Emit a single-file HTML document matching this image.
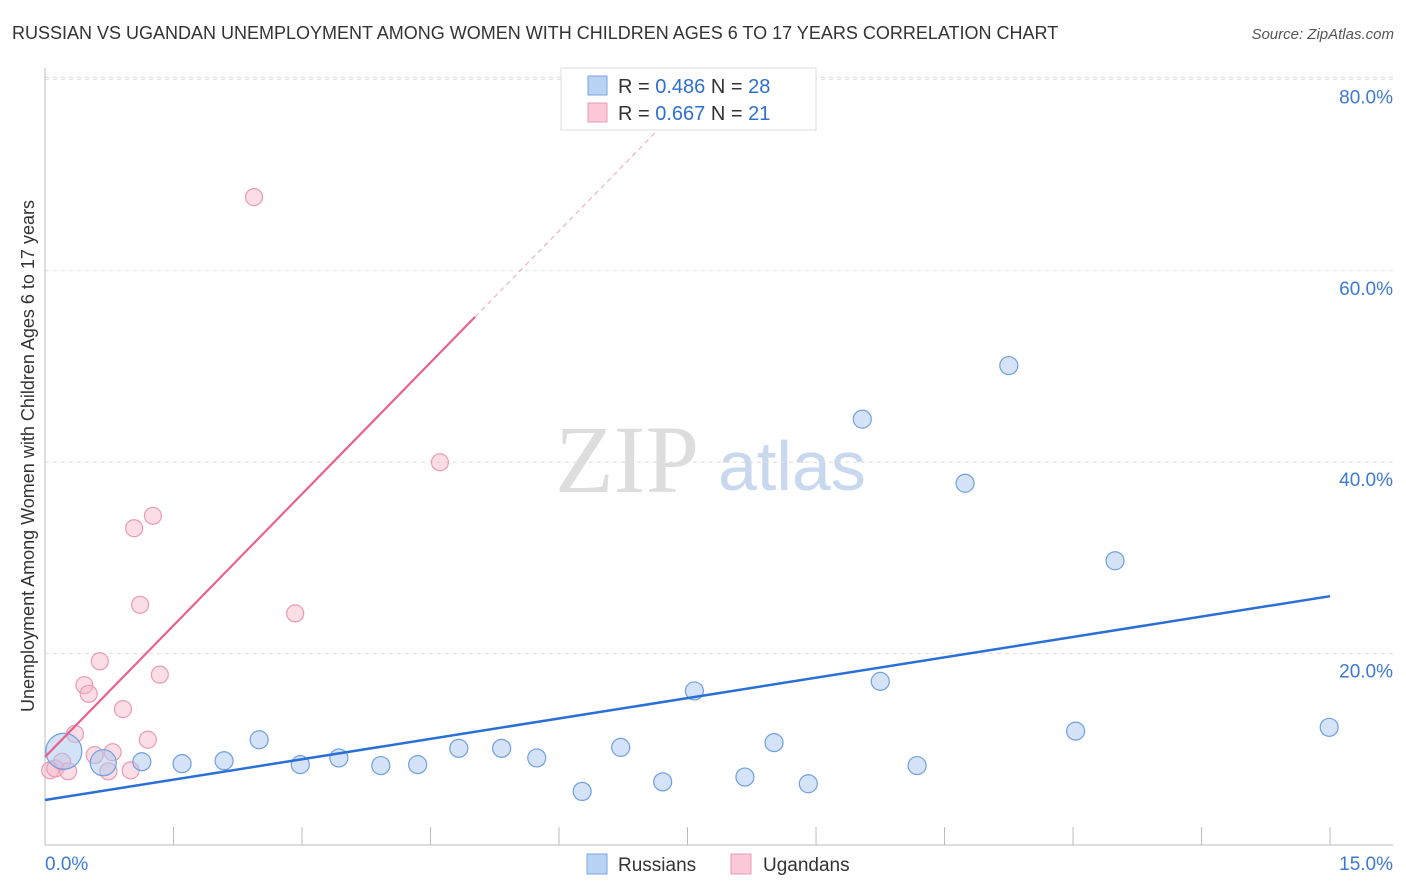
<!DOCTYPE html>
<html><head><meta charset="utf-8"><style>
body{margin:0;background:#fff;font-family:"Liberation Sans",sans-serif;}
svg{display:block}
</style></head><body>
<svg id="c" width="1406" height="892">
<text x="12" y="39" font-size="18" fill="#333">RUSSIAN VS UGANDAN UNEMPLOYMENT AMONG WOMEN WITH CHILDREN AGES 6 TO 17 YEARS CORRELATION CHART</text>
<text x="1394" y="39" font-size="15" fill="#555" text-anchor="end" font-style="italic">Source: ZipAtlas.com</text>
<text transform="translate(34,456) rotate(-90)" font-size="18" fill="#333" text-anchor="middle">Unemployment Among Women with Children Ages 6 to 17 years</text>
<text x="555" y="492" font-size="96" fill="#ddd" font-family="Liberation Serif">ZIP</text>
<text x="718" y="490" font-size="70" fill="#c8d8ee">atlas</text>
<g id="grid"></g><g id="marks"></g>
<g>
<rect x="561" y="68" width="255" height="62" fill="#fff" stroke="#ddd"/>
<rect x="588" y="76" width="19" height="19" fill="#b9d3f5" stroke="#7aa6e0"/>
<text x="618" y="93" font-size="20" fill="#333">R = <tspan fill="#2f6fd0">0.486</tspan>   N = <tspan fill="#2f6fd0">28</tspan></text>
<rect x="588" y="103" width="19" height="19" fill="#f9c9d8" stroke="#eb9ab5"/>
<text x="618" y="120" font-size="20" fill="#333">R = <tspan fill="#2f6fd0">0.667</tspan>   N = <tspan fill="#2f6fd0"> 21</tspan></text>
</g>
<g>
<rect x="587" y="854" width="20" height="20" fill="#b9d3f5" stroke="#7aa6e0"/>
<text x="618" y="871" font-size="19" fill="#333">Russians</text>
<rect x="731" y="854" width="20" height="20" fill="#f9c9d8" stroke="#eb9ab5"/>
<text x="763" y="871" font-size="19" fill="#333">Ugandans</text>
</g>
</svg>
<script>
const yTicks=[20,40,60,80];
const yTickLabels=["20.0%","40.0%","60.0%","80.0%"];
const xTicks=[0,1.5,3,4.5,6,7.5,9,10.5,12,13.5,15];
const ruX=[0.22,0.68,1.13,1.6,2.09,2.5,2.98,3.43,3.92,4.35,4.83,5.33,5.74,6.27,6.72,7.21,7.58,8.17,8.51,8.91,9.54,9.75,10.18,10.74,11.25,12.03,12.49,14.99];
const ruY=[9.8,8.6,8.7,8.5,8.8,11.0,8.4,9.1,8.3,8.4,10.1,10.1,9.1,5.6,10.2,6.6,16.1,7.1,10.7,6.4,44.5,17.1,8.3,37.8,50.1,11.9,29.7,12.3];
const ruR=[18,13,9,9,9,9,9,9,9,9,9,9,9,9,9,9,9,9,9,9,9,9,9,9,9,9,9,9];
const ugX=[0.06,0.12,0.2,0.27,0.35,0.46,0.51,0.64,0.58,0.74,0.79,0.91,1.0,1.04,1.11,1.2,1.26,1.34,2.44,2.92,4.61];
const ugY=[7.8,8.0,8.7,7.7,11.6,16.7,15.8,19.2,9.4,7.7,9.7,14.2,7.8,33.1,25.1,11.0,34.4,17.8,67.7,24.2,40.0];
const ruLine=[4.7,26.0];      // y at x=0 and x=15
const ugLine=[9.2,9.16];      // intercept, slope
const X=v=>45+v*85.67, Y=v=>845-v*9.57;
const NS="http://www.w3.org/2000/svg";
function mk(t,a,p){const e=document.createElementNS(NS,t);for(const k in a)e.setAttribute(k,a[k]);p.appendChild(e);return e;}
const g=document.getElementById('grid'), m=document.getElementById('marks');
yTicks.forEach((v,i)=>{
 const l=mk('line',{x1:45,x2:1393,y1:Y(v),y2:Y(v),stroke:'#ddd','stroke-dasharray':'4,4'},g);
 
 
 const t=mk('text',{x:1393,y:Y(v)+24,'font-size':19,fill:'#3d7ad6','text-anchor':'end'},g);t.textContent=yTickLabels[i];
 
 
});
mk('line',{x1:45,x2:1393,y1:Y(80)-2,y2:Y(80)-2,stroke:'#ddd','stroke-dasharray':'4,4'},g);
const ax=mk('line',{x1:45,x2:1393,y1:845,y2:845,stroke:'#bbb'},g);


mk('line',{x1:45,x2:45,y1:68,y2:845,stroke:'#bbb'},g);
xTicks.forEach(v=>{const l=mk('line',{x1:X(v),x2:X(v),y1:827,y2:845,stroke:'#bbb'},g);
 
 });
let t=mk('text',{x:45,y:870,'font-size':19,fill:'#3d7ad6'},g);t.textContent='0.0%';


t=mk('text',{x:1393,y:870,'font-size':19,fill:'#3d7ad6','text-anchor':'end'},g);t.textContent='15.0%';


ugX.forEach((v,i)=>{const c=mk('circle',{cx:X(v),cy:Y(ugY[i]),r:8.5,fill:'rgba(247,180,200,0.45)',stroke:'#ec9ab4','stroke-width':1.2},m);
 
 });
ruX.forEach((v,i)=>{const c=mk('circle',{cx:X(v),cy:Y(ruY[i]),r:ruR[i],fill:'rgba(170,200,240,0.5)',stroke:'#6f9fe0','stroke-width':1.2},m);
 
 });
let l=mk('line',{x1:X(0),y1:Y(ruLine[0]),x2:X(15),y2:Y(ruLine[1]),stroke:'#2a6fd6','stroke-width':2.5},m);


l=mk('line',{x1:X(0),y1:Y(ugLine[0]),x2:X(5.02),y2:Y(ugLine[0]+ugLine[1]*5.02),stroke:'#e8628e','stroke-width':2.2},m);


l=mk('line',{x1:X(5.02),y1:Y(ugLine[0]+ugLine[1]*5.02),x2:X(7.4),y2:Y(ugLine[0]+ugLine[1]*7.4),stroke:'#eaa5bb','stroke-width':1,'stroke-dasharray':'5,4'},m);


</script>
</body></html>
